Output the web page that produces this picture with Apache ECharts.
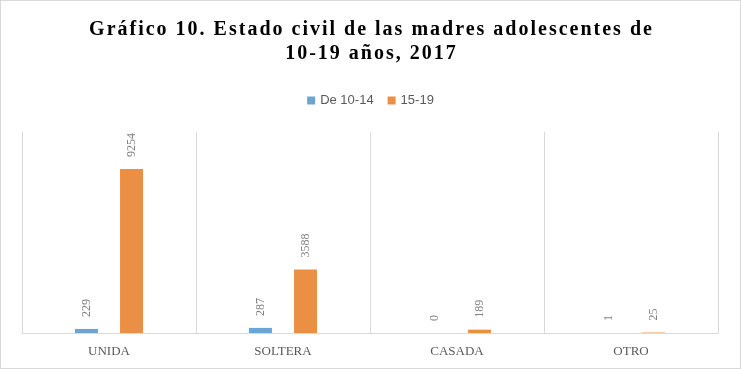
<!DOCTYPE html>
<html>
<head>
<meta charset="utf-8">
<script src="https://cdn.jsdelivr.net/npm/echarts@6/dist/echarts.min.js"></script>
<style>
  html, body { margin: 0; padding: 0; background: #fff; }
  #wrap { position: relative; width: 741px; height: 369px; box-sizing: border-box; border: 1px solid #d9d9d9; overflow: hidden; }
  #chart { position: absolute; left: -1px; top: -1px; width: 741px; height: 369px; }
  #title { position: absolute; left: 0; top: 15px; width: 741px; text-align: center;
           font-family: "Liberation Serif", "Times New Roman", serif; font-weight: bold;
           font-size: 20px; line-height: 24px; letter-spacing: 2px; color: #000; z-index: 2; }
</style>
</head>
<body>
<div id="wrap">
  <div id="title">Gráfico 10. Estado civil de las madres adolescentes de<br>10-19 años, 2017</div>
  <div id="chart"></div>
</div>
<script>
const categories = ["UNIDA", "SOLTERA", "CASADA", "OTRO"];
const seriesNames = ["De 10-14", "15-19"];
const values1014 = [229, 287, 0, 1];
const values1519 = [9254, 3588, 189, 25];

const chart = echarts.init(document.getElementById('chart'));
const labelStyle = {
  show: true, position: 'top', rotate: 90, distance: 12,
  align: 'left', verticalAlign: 'middle',
  color: '#808080', fontSize: 12, fontFamily: 'Liberation Serif'
};
chart.setOption({
  animation: false,
  legend: {
    data: seriesNames, top: 89, left: 'center', icon: 'rect',
    itemWidth: 8, itemHeight: 8, itemGap: 14,
    textStyle: { color: '#595959', fontSize: 13, fontFamily: 'Liberation Sans' }
  },
  grid: { left: 22, right: 23, top: 132, bottom: 36 },
  xAxis: {
    type: 'category', data: categories,
    axisLine: { lineStyle: { color: '#d9d9d9', width: 1 } },
    axisTick: { show: false },
    splitLine: { show: true, lineStyle: { color: '#d9d9d9', width: 1 } },
    axisLabel: { color: '#595959', fontSize: 13, fontFamily: 'Liberation Serif', margin: 12 }
  },
  yAxis: { type: 'value', min: 0, max: 11340, show: false, splitLine: { show: false } },
  series: [
    { name: seriesNames[0], type: 'bar', data: values1014, barWidth: 23, barGap: '96%',
      itemStyle: { color: '#6ca5d4' }, label: labelStyle },
    { name: seriesNames[1], type: 'bar', data: values1519, barWidth: 23,
      itemStyle: { color: '#eb8f45' }, label: labelStyle }
  ]
});
</script>
</body>
</html>
